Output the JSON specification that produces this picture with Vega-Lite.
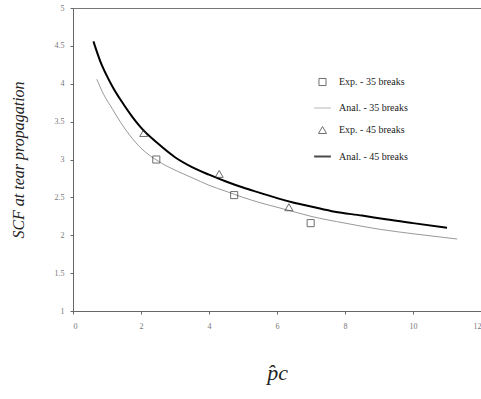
{
  "$schema": "https://vega.github.io/schema/vega-lite/v6.json",
  "width": 408,
  "height": 303,
  "autosize": "none",
  "padding": {"left": 73, "top": 8, "right": 0, "bottom": 88},
  "background": "white",
  "config": {
    "view": {"stroke": "#777", "strokeWidth": 1},
    "font": "Liberation Serif"
  },
  "datasets": {
    "curves": [
      {"p": 0.6, "scf": 4.56, "series": "Anal. - 45 breaks"},
      {"p": 0.8, "scf": 4.30, "series": "Anal. - 45 breaks"},
      {"p": 1.0, "scf": 4.10, "series": "Anal. - 45 breaks"},
      {"p": 1.2, "scf": 3.93, "series": "Anal. - 45 breaks"},
      {"p": 1.5, "scf": 3.72, "series": "Anal. - 45 breaks"},
      {"p": 1.75, "scf": 3.56, "series": "Anal. - 45 breaks"},
      {"p": 2.0, "scf": 3.42, "series": "Anal. - 45 breaks"},
      {"p": 2.5, "scf": 3.21, "series": "Anal. - 45 breaks"},
      {"p": 3.0, "scf": 3.03, "series": "Anal. - 45 breaks"},
      {"p": 3.5, "scf": 2.90, "series": "Anal. - 45 breaks"},
      {"p": 4.0, "scf": 2.80, "series": "Anal. - 45 breaks"},
      {"p": 4.5, "scf": 2.71, "series": "Anal. - 45 breaks"},
      {"p": 5.0, "scf": 2.63, "series": "Anal. - 45 breaks"},
      {"p": 5.5, "scf": 2.56, "series": "Anal. - 45 breaks"},
      {"p": 6.0, "scf": 2.49, "series": "Anal. - 45 breaks"},
      {"p": 6.5, "scf": 2.43, "series": "Anal. - 45 breaks"},
      {"p": 7.0, "scf": 2.38, "series": "Anal. - 45 breaks"},
      {"p": 7.7, "scf": 2.31, "series": "Anal. - 45 breaks"},
      {"p": 8.5, "scf": 2.26, "series": "Anal. - 45 breaks"},
      {"p": 9.2, "scf": 2.21, "series": "Anal. - 45 breaks"},
      {"p": 10.0, "scf": 2.16, "series": "Anal. - 45 breaks"},
      {"p": 11.0, "scf": 2.10, "series": "Anal. - 45 breaks"},
      {"p": 0.7, "scf": 4.06, "series": "Anal. - 35 breaks"},
      {"p": 0.9, "scf": 3.86, "series": "Anal. - 35 breaks"},
      {"p": 1.17, "scf": 3.66, "series": "Anal. - 35 breaks"},
      {"p": 1.4, "scf": 3.49, "series": "Anal. - 35 breaks"},
      {"p": 1.67, "scf": 3.32, "series": "Anal. - 35 breaks"},
      {"p": 2.0, "scf": 3.15, "series": "Anal. - 35 breaks"},
      {"p": 2.5, "scf": 2.98, "series": "Anal. - 35 breaks"},
      {"p": 3.0, "scf": 2.86, "series": "Anal. - 35 breaks"},
      {"p": 3.5, "scf": 2.76, "series": "Anal. - 35 breaks"},
      {"p": 4.0, "scf": 2.66, "series": "Anal. - 35 breaks"},
      {"p": 4.5, "scf": 2.58, "series": "Anal. - 35 breaks"},
      {"p": 5.0, "scf": 2.50, "series": "Anal. - 35 breaks"},
      {"p": 5.5, "scf": 2.43, "series": "Anal. - 35 breaks"},
      {"p": 6.0, "scf": 2.37, "series": "Anal. - 35 breaks"},
      {"p": 6.5, "scf": 2.31, "series": "Anal. - 35 breaks"},
      {"p": 7.0, "scf": 2.25, "series": "Anal. - 35 breaks"},
      {"p": 8.0, "scf": 2.16, "series": "Anal. - 35 breaks"},
      {"p": 9.0, "scf": 2.08, "series": "Anal. - 35 breaks"},
      {"p": 10.0, "scf": 2.02, "series": "Anal. - 35 breaks"},
      {"p": 11.3, "scf": 1.95, "series": "Anal. - 35 breaks"}
    ],
    "points": [
      {"p": 2.45, "scf": 3.0, "series": "Exp. - 35 breaks"},
      {"p": 4.74, "scf": 2.53, "series": "Exp. - 35 breaks"},
      {"p": 6.99, "scf": 2.16, "series": "Exp. - 35 breaks"},
      {"p": 2.08, "scf": 3.35, "series": "Exp. - 45 breaks"},
      {"p": 4.3, "scf": 2.81, "series": "Exp. - 45 breaks"},
      {"p": 6.35, "scf": 2.37, "series": "Exp. - 45 breaks"}
    ]
  },
  "encoding": {
    "x": {
      "field": "p", "type": "quantitative",
      "scale": {"domain": [0, 12], "nice": false},
      "axis": {
        "values": [0, 2, 4, 6, 8, 10, 12],
        "format": "~g",
        "title": "p̂c",
        "titleFont": "Liberation Serif",
        "titleFontStyle": "italic",
        "titleFontWeight": "normal",
        "titleFontSize": 22,
        "titleColor": "#222",
        "titlePadding": 32,
        "labelFont": "Liberation Serif",
        "labelFontSize": 8,
        "labelColor": "#777",
        "labelPadding": 8,
        "domainColor": "#666",
        "tickColor": "#666",
        "tickSize": 3,
        "grid": false
      }
    },
    "y": {
      "field": "scf", "type": "quantitative",
      "scale": {"domain": [1, 5], "nice": false},
      "axis": {
        "values": [1, 1.5, 2, 2.5, 3, 3.5, 4, 4.5, 5],
        "format": "~g",
        "title": "SCF at tear propagation",
        "titleFont": "Liberation Serif",
        "titleFontStyle": "italic",
        "titleFontWeight": "normal",
        "titleFontSize": 16,
        "titleColor": "#222",
        "titlePadding": 28,
        "labelFont": "Liberation Serif",
        "labelFontSize": 8,
        "labelColor": "#777",
        "labelPadding": 6,
        "domainColor": "#666",
        "tickColor": "#666",
        "tickSize": 3,
        "grid": false
      }
    }
  },
  "layer": [
    {
      "data": {"name": "curves"},
      "mark": {"type": "line", "interpolate": "monotone"},
      "encoding": {
        "detail": {"field": "series"},
        "color": {"field": "series", "type": "nominal",
          "scale": {"domain": ["Exp. - 35 breaks", "Anal. - 35 breaks", "Exp. - 45 breaks", "Anal. - 45 breaks"],
                    "range": ["#333", "#999", "#333", "#000"]},
          "legend": {
            "title": null,
            "orient": "none",
            "legendX": 240,
            "legendY": 69,
            "labelFont": "Liberation Serif",
            "labelFontSize": 10,
            "labelColor": "#222",
            "rowPadding": 11,
            "labelOffset": 7
          }
        },
        "strokeWidth": {"field": "series", "type": "nominal",
          "scale": {"type": "ordinal", "domain": ["Exp. - 35 breaks", "Anal. - 35 breaks", "Exp. - 45 breaks", "Anal. - 45 breaks"],
                    "range": [1, 1, 1, 2]}}
      }
    },
    {
      "data": {"name": "points"},
      "mark": {"type": "point", "filled": false, "strokeWidth": 1},
      "encoding": {
        "color": {"field": "series", "type": "nominal"},
        "size": {"field": "series", "type": "nominal",
          "scale": {"type": "ordinal", "domain": ["Exp. - 35 breaks", "Anal. - 35 breaks", "Exp. - 45 breaks", "Anal. - 45 breaks"],
                    "range": [50, 280, 65, 280]}},
        "shape": {"field": "series", "type": "nominal",
          "scale": {"domain": ["Exp. - 35 breaks", "Anal. - 35 breaks", "Exp. - 45 breaks", "Anal. - 45 breaks"],
                    "range": ["square", "stroke", "triangle-up", "stroke"]}}
      }
    }
  ]
}
